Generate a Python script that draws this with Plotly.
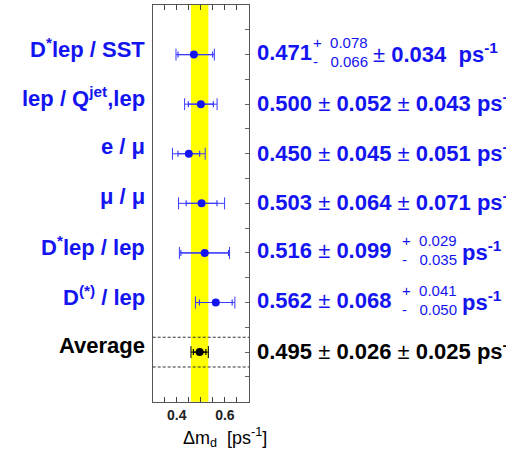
import plotly.graph_objects as go
import numpy as np

# ---------------- data ----------------
labels = ["D<sup>*</sup>lep / SST", "lep / Q<sup>jet</sup>,lep", "e / μ", "μ / μ",
          "D<sup>*</sup>lep / lep", "D<sup>(*)</sup> / lep", "Average"]
values = [0.471, 0.500, 0.450, 0.503, 0.516, 0.562, 0.495]
stat_plus = [0.078, 0.052, 0.045, 0.064, 0.099, 0.068, 0.026]
stat_minus = [0.066, 0.052, 0.045, 0.064, 0.099, 0.068, 0.026]
sys_plus = [0.034, 0.043, 0.051, 0.071, 0.029, 0.041, 0.025]
sys_minus = [0.034, 0.043, 0.051, 0.071, 0.035, 0.050, 0.025]
rows = [1, 2, 3, 4, 5, 6, 7]
x_ticks = [0.30, 0.35, 0.40, 0.45, 0.50, 0.55, 0.60, 0.65, 0.70]
x_ticktext = ["", "", "0.4", "", "", "", "0.6", "", ""]

W, H = 506, 451
BLUE = "#1414f0"
BAR_BLUE = "#3a3aff"

tot_plus = list(np.sqrt(np.array(stat_plus) ** 2 + np.array(sys_plus) ** 2))
tot_minus = list(np.sqrt(np.array(stat_minus) ** 2 + np.array(sys_minus) ** 2))
avg_val = values[-1]
avg_tot = tot_plus[-1]

# plot frame in pixels
PX_L, PX_R, PX_T, PX_B = 152.7, 249.0, 5.0, 401.7

fig = go.Figure()

for i in range(len(values)):
    col = "black" if i == len(values) - 1 else BLUE
    bcol = "black" if i == len(values) - 1 else BAR_BLUE
    # total error
    fig.add_trace(go.Scatter(
        x=[values[i]], y=[rows[i]], mode="markers",
        marker=dict(size=0.1, color=col),
        error_x=dict(type="data", symmetric=False, array=[tot_plus[i]], arrayminus=[tot_minus[i]],
                     color=bcol, thickness=1, width=6),
        showlegend=False, hoverinfo="skip"))
    # stat error
    fig.add_trace(go.Scatter(
        x=[values[i]], y=[rows[i]], mode="markers",
        marker=dict(size=8, color=col),
        error_x=dict(type="data", symmetric=False, array=[stat_plus[i]], arrayminus=[stat_minus[i]],
                     color=bcol, thickness=1.2, width=3),
        showlegend=False, hoverinfo="skip"))

shapes = [
    dict(type="rect", xref="x", yref="y domain", x0=avg_val - avg_tot, x1=avg_val + avg_tot,
         y0=0, y1=1, fillcolor="#ffff00", line=dict(width=0), layer="below"),
    dict(type="line", xref="x domain", yref="y", x0=0, x1=1, y0=6.7, y1=6.7,
         line=dict(color="#333333", width=1, dash="3px,2px")),
    dict(type="line", xref="x domain", yref="y", x0=0, x1=1, y0=7.3, y1=7.3,
         line=dict(color="#333333", width=1, dash="3px,2px")),
]

ann = []
FONT = "Liberation Sans, Arial, sans-serif"


def px(xp):
    return xp / W


# left labels
for i, lab in enumerate(labels):
    col = "black" if i == len(labels) - 1 else BLUE
    ann.append(dict(xref="paper", yref="y", x=px(147), y=rows[i], yshift=7,
                    text="<b>" + lab + "</b>", showarrow=False, xanchor="right", yanchor="middle",
                    font=dict(family=FONT, size=22, color=col)))


def fmt(v):
    return f"{v:.3f}"


NB = "\u00a0"
PM = "</b>" + NB + "±" + NB + "<b>"
PS = " ps<sup>-1</sup>"


def stack(xp, row, up, dn, col):
    ann.append(dict(xref="paper", yref="y", x=px(xp), y=row, yshift=12,
                    text="+" + NB + NB + fmt(up), showarrow=False, xanchor="left", yanchor="middle",
                    font=dict(family=FONT, size=15, color=col)))
    ann.append(dict(xref="paper", yref="y", x=px(xp), y=row, yshift=-7,
                    text="-" + NB + NB + NB + fmt(dn), showarrow=False, xanchor="left", yanchor="middle",
                    font=dict(family=FONT, size=15, color=col)))


for i in range(len(values)):
    col = "black" if i == len(values) - 1 else BLUE
    r = rows[i]
    asym_stat = stat_plus[i] != stat_minus[i]
    asym_sys = sys_plus[i] != sys_minus[i]
    if asym_stat:
        ann.append(dict(xref="paper", yref="y", x=px(255), y=r, yshift=2,
                        text="<b>" + fmt(values[i]) + "</b>", showarrow=False, xanchor="left",
                        font=dict(family=FONT, size=22, color=col)))
        stack(311, r, stat_plus[i], stat_minus[i], col)
        ann.append(dict(xref="paper", yref="y", x=px(371), y=r, yshift=2,
                        text="±" + NB + "<b>" + fmt(sys_plus[i]) + NB + NB + "ps<sup>-1</sup></b>",
                        showarrow=False, xanchor="left",
                        font=dict(family=FONT, size=22, color=col)))
    elif asym_sys:
        ann.append(dict(xref="paper", yref="y", x=px(255), y=r, yshift=2,
                        text="<b>" + fmt(values[i]) + PM + fmt(stat_plus[i]) + "</b>",
                        showarrow=False, xanchor="left",
                        font=dict(family=FONT, size=22, color=col)))
        stack(400, r, sys_plus[i], sys_minus[i], col)
        ann.append(dict(xref="paper", yref="y", x=px(460), y=r, yshift=2,
                        text="<b>ps<sup>-1</sup></b>", showarrow=False, xanchor="left",
                        font=dict(family=FONT, size=22, color=col)))
    else:
        ann.append(dict(xref="paper", yref="y", x=px(255), y=r, yshift=2,
                        text="<b>" + fmt(values[i]) + PM + fmt(stat_plus[i]) + PM + fmt(sys_plus[i]) + PS + "</b>",
                        showarrow=False, xanchor="left",
                        font=dict(family=FONT, size=22, color=col)))

# axis title
ann.append(dict(xref="paper", yref="paper", x=px(225), y=1 - 437 / H,
                text="Δm<sub>d</sub>" + NB + NB + "[ps<sup>-1</sup>]", showarrow=False,
                xanchor="center", yanchor="middle",
                font=dict(family=FONT, size=18, color="black")))

fig.update_layout(
    width=W, height=H, margin=dict(l=0, r=0, t=0, b=0),
    paper_bgcolor="white", plot_bgcolor="white",
    shapes=shapes, annotations=ann, showlegend=False,
    xaxis=dict(domain=[PX_L / W, PX_R / W], range=[0.3, 0.7], showgrid=False, zeroline=False,
               tickmode="array", tickvals=x_ticks, ticktext=x_ticktext,
               ticks="inside", ticklen=5, tickcolor="#444444", mirror="ticks",
               showline=True, linecolor="#555555", linewidth=1,
               tickfont=dict(family=FONT, size=14, color="#222222", weight="bold"),
               automargin=False),
    yaxis=dict(domain=[1 - PX_B / H, 1 - PX_T / H], range=[8, 0], showgrid=False, zeroline=False,
               side="right", tickmode="array", tickvals=[x * 0.5 for x in range(1, 16)],
               ticks="inside", ticklen=4, tickcolor="#666666", showticklabels=False,
               showline=True, linecolor="#555555", linewidth=1, mirror=True,
               automargin=False),
)

fig.write_html("out.html")
